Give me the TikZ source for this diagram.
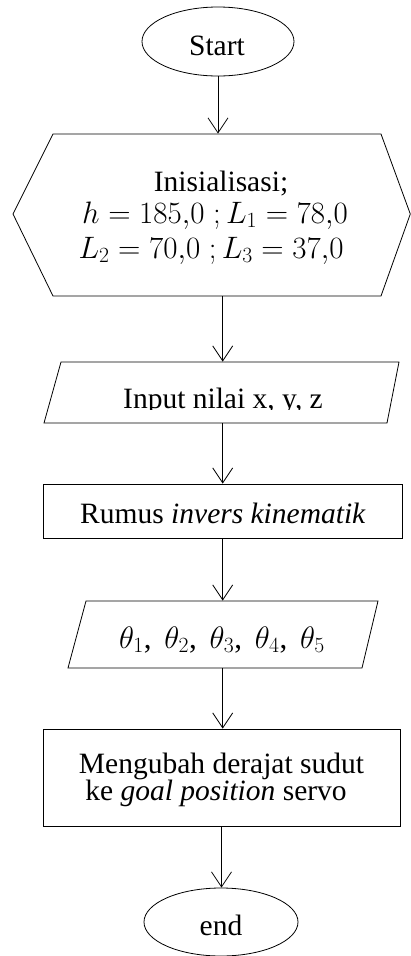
\documentclass[tikz,border=0pt]{standalone}
\usepackage{fix-cm}
\usepackage{fontspec}
\setmainfont{Liberation Serif}
\usetikzlibrary{arrows.meta,shapes.geometric}
\begin{document}
\begin{tikzpicture}[x=1pt,y=-1pt,
  line width=0.8pt,
  arr/.style={-{Straight Barb[length=15pt,width=20pt]}},
  boxnode/.style={draw,rectangle,inner sep=0pt},
  termnode/.style={draw,ellipse,inner sep=0pt},
  anchornode/.style={rectangle,inner sep=0pt},
  txt/.style={anchor=base,inner sep=0pt,font=\fontsize{29.5}{35}\selectfont},
  mtxt/.style={anchor=base,inner sep=0pt,font=\fontsize{31}{36}\selectfont}]
\useasboundingbox (0,0) rectangle (410,956);
% start
\node[termnode,minimum width=152pt,minimum height=69pt] (start) at (218,41.5) {};
\node[txt] (startT) at (217,55) {Start};
% init hexagon
\draw (53,134) -- (381,134) -- (410.3,214) -- (381,296) -- (53,296) -- (13,214) -- cycle;
\node[anchornode,minimum width=330pt,minimum height=162pt] (init) at (218,215) {};
\node[txt] (initA) at (221,191) {Inisialisasi;};
\node[mtxt] (initB) at (215,223) {$h=185{,}0\;;L_1=78{,}0$};
\node[mtxt] (initC) at (211,258) {$L_2=70{,}0\;;L_3=37{,}0$};
% input
\draw (61,362) -- (399,362) -- (387,423) -- (44,423) -- cycle;
\node[anchornode,minimum width=340pt,minimum height=61pt] (inp) at (222.7,392.5) {};
\begin{scope}
\clip (40,360) rectangle (400,409);
\node[txt] (inpT) at (223,408) {Input nilai x, y, z};
\end{scope}
% proc1
\node[boxnode,minimum width=359pt,minimum height=54pt] (proc1) at (222.7,511) {};
\node[txt] (proc1T) at (223,523) {Rumus \textit{invers kinematik}};
% output
\draw (86,601) -- (378,601) -- (362,668) -- (68,668) -- cycle;
\node[anchornode,minimum width=300pt,minimum height=67pt] (out) at (222.7,634.5) {};
\node[mtxt] (outT) at (222,648) {$\theta_1$,\, $\theta_2$,\, $\theta_3$,\, $\theta_4$,\, $\theta_5$};
% proc2
\node[boxnode,minimum width=357pt,minimum height=97pt] (proc2) at (221.5,777.5) {};
\node[txt] (proc2A) at (221.5,773) {Mengubah derajat sudut};
\node[txt] (proc2B) at (216,800) {ke \textit{goal position} servo};
% end
\node[termnode,minimum width=154pt,minimum height=68pt] (end) at (221,922) {};
\node[txt] (endT) at (221,935) {end};
% connectors
\draw[arr] (start.south) -- (init.north);
\draw[arr] (init.south -| inp.north) -- (inp.north);
\draw[arr] (inp.south) -- (proc1.north);
\draw[arr] (proc1.south) -- (out.north);
\draw[arr] (out.south) -- (out.south |- proc2.north);
\draw[arr] (proc2.south) -- (proc2.south |- end.north);
\end{tikzpicture}
\end{document}
